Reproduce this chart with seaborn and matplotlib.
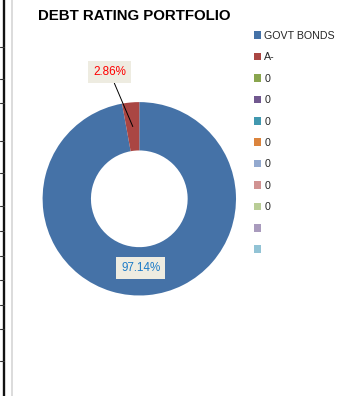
import matplotlib
matplotlib.use("Agg")
import matplotlib.pyplot as plt
from matplotlib.lines import Line2D
import numpy as np
import seaborn as sns

# ---- data ----
categories = ["GOVT BONDS", "A-", "0", "0", "0", "0", "0", "0", "0", "", ""]
values = [97.14, 2.86, 0, 0, 0, 0, 0, 0, 0, 0, 0]
label_texts = ["97.14%", "2.86%"]
colors = ["#4572A7", "#AA4643", "#89A54E", "#71588F", "#4198AF", "#DB843D",
          "#93A9CF", "#D19392", "#B9CD96", "#A99BBD", "#92C3D5"]

sns.set_theme(style="white")
plt.rcParams["font.family"] = ["Liberation Sans", "DejaVu Sans"]

W, H = 350, 396
fig = plt.figure(figsize=(W / 100, H / 100), dpi=100)
fig.patch.set_facecolor("white")

# pie axes: center (139.3, 198.8) px, radius 96.7 px
cx, cy, R = 139.3, 198.8, 96.7
span = 1.5
ax = fig.add_axes([(cx - span * R) / W, 1 - (cy + span * R) / H,
                   2 * span * R / W, 2 * span * R / H])
wedges, _ = ax.pie(values, colors=colors, startangle=90, counterclock=False,
                   radius=1.0, wedgeprops=dict(width=0.5, linewidth=0))
ax.set_xlim(-span, span)
ax.set_ylim(-span, span)
ax.set_axis_off()

# data labels
total = sum(values)
angles = []
start = 90.0
for v in values[:2]:
    sweep = v / total * 360
    angles.append(np.deg2rad(start - sweep / 2))
    start -= sweep

box = dict(boxstyle="square,pad=0.42", facecolor="#EEECE1", edgecolor="none")
# 97.14% inside ring
a0 = angles[0]
ax.text(0.72 * np.cos(a0) - 0.05, 0.72 * np.sin(a0), label_texts[0], ha="center", va="center",
        fontsize=8.4, color="#1E7CC8", bbox=box)
# 2.86% outside with leader
a1 = angles[1]
ax.annotate(label_texts[1], xy=(0.75 * np.cos(a1), 0.75 * np.sin(a1)),
            xytext=(-0.306, 1.308), ha="center", va="center",
            fontsize=8.4, color="#FF0000", bbox=box,
            arrowprops=dict(arrowstyle="-", color="black", lw=0.7,
                            shrinkA=0, shrinkB=0))

# title
fig.text(133.8 / W, 1 - 15.5 / H, "DEBT RATING PORTFOLIO", ha="center", va="center",
         fontsize=10.8, fontweight="bold", color="black")

# legend
fs = 7.7
leg = fig.legend(wedges, categories, loc="upper left",
                 bbox_to_anchor=(253.5 / W, 1 - 31 / H),
                 frameon=False, fontsize=fs, handlelength=0.72, handleheight=0.72,
                 handletextpad=0.3, labelspacing=1.065, borderpad=0, borderaxespad=0)

# spreadsheet edge artifacts on the left
fig.add_artist(Line2D([4.2 / W, 4.2 / W], [0, 1], color="#111111", lw=1.7))
fig.add_artist(Line2D([12 / W, 12 / W], [0, 1], color="#D9D9D9", lw=1.3))
for yp in [47, 79, 103, 141, 173, 206, 231, 256, 280, 305, 329, 361]:
    fig.add_artist(Line2D([0, 4 / W], [1 - yp / H, 1 - yp / H], color="#333333", lw=0.8))

fig.savefig("out.png", dpi=100)
